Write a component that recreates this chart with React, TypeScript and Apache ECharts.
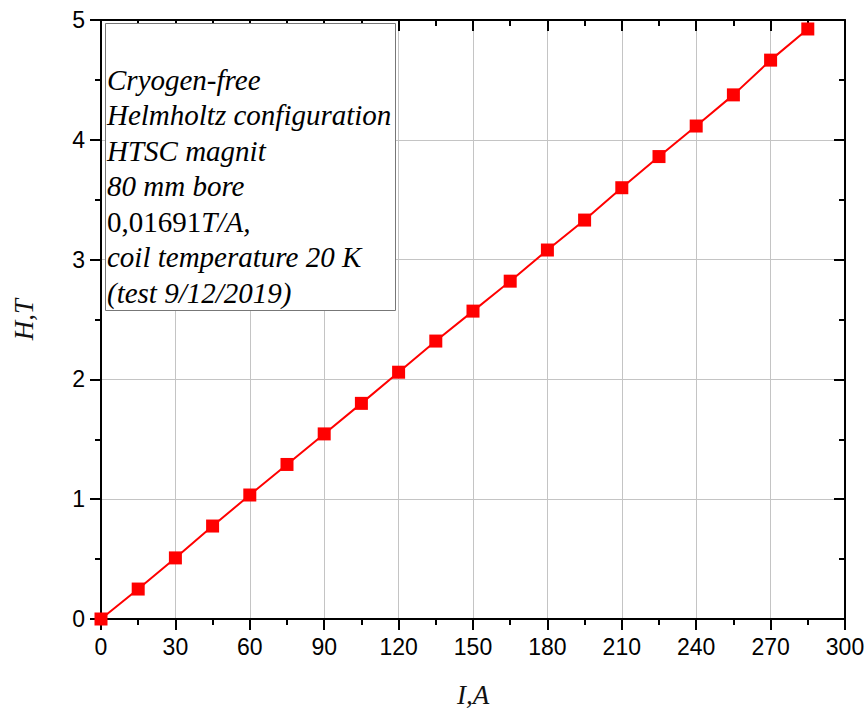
import React, { useEffect, useRef } from "react";
import * as echarts from "echarts";

const currents = [0, 15, 30, 45, 60, 75, 90, 105, 120, 135, 150, 165, 180, 195, 210, 225, 240, 255, 270, 285];
const fields = [0, 0.25, 0.51, 0.776, 1.035, 1.29, 1.545, 1.8, 2.06, 2.32, 2.57, 2.82, 3.08, 3.33, 3.6, 3.86, 4.115, 4.375, 4.665, 4.925];
const noteLines = [
  "Cryogen-free",
  "Helmholtz configuration",
  "HTSC magnit",
  "80 mm bore",
  "{n|0,01691}{i|T/A,}",
  "coil temperature 20 K",
  "(test 9/12/2019)",
];

const serif = "'Liberation Serif', 'Times New Roman', serif";
const sans = "'Liberation Sans', Arial, sans-serif";

export default function App() {
  const ref = useRef<HTMLDivElement>(null);
  useEffect(() => {
    if (!ref.current) return;
    const chart = echarts.init(ref.current, null, { renderer: "svg" });
    const data = currents.map((c, i) => [c, fields[i]]);
    const axisLine = { show: true, onZero: false, lineStyle: { color: "#000", width: 2 } };
    const grid = { left: 101, right: 23, top: 20, bottom: 92, outerBoundsMode: "none" };
    const lineTop = 23;
    const lh = 35.5;
    const fs = 29;
    const textEls: any[] = noteLines.map((t, i) => ({
      type: "text",
      left: 107,
      top: lineTop + 42 + i * lh,
      z: 101,
      style: {
        text: t,
        fontFamily: serif,
        fontStyle: "italic",
        fontSize: fs,
        fill: "#000",
        rich: {
          n: { fontStyle: "normal", fontSize: fs, fontFamily: serif, fill: "#000" },
          i: { fontStyle: "italic", fontSize: fs, fontFamily: serif, fill: "#000" },
        },
      },
    }));
    chart.setOption({
      animation: false,
      grid,
      xAxis: [
        {
          type: "value",
          min: 0,
          max: 300,
          interval: 30,
          position: "bottom",
          name: "I,A",
          nameLocation: "middle",
          nameGap: 62,
          nameTextStyle: { fontFamily: serif, fontStyle: "italic", fontSize: 27, color: "#111" },
          axisLine,
          axisTick: { show: true, inside: false, length: 11, lineStyle: { color: "#000", width: 2 } },
          minorTick: { show: true, splitNumber: 2, length: 6, lineStyle: { color: "#000", width: 2 } },
          axisLabel: { fontFamily: sans, fontSize: 23, color: "#000", margin: 16 },
          splitLine: { show: true, lineStyle: { color: "#c4c4c4", width: 1 } },
        },
        {
          type: "value",
          min: 0,
          max: 300,
          interval: 30,
          position: "top",
          axisLine,
          axisTick: { show: true, inside: true, length: 11, lineStyle: { color: "#000", width: 2 } },
          minorTick: { show: true, splitNumber: 2, length: 6, lineStyle: { color: "#000", width: 2 } },
          axisLabel: { show: false },
          splitLine: { show: false },
        },
      ],
      yAxis: [
        {
          type: "value",
          min: 0,
          max: 5,
          interval: 1,
          position: "left",
          name: "H,T",
          nameLocation: "middle",
          nameGap: 64,
          nameRotate: 90,
          nameTextStyle: { fontFamily: serif, fontStyle: "italic", fontSize: 27, color: "#111" },
          axisLine,
          axisTick: { show: true, inside: false, length: 11, lineStyle: { color: "#000", width: 2 } },
          minorTick: { show: true, splitNumber: 2, length: 6, lineStyle: { color: "#000", width: 2 } },
          axisLabel: { fontFamily: sans, fontSize: 23, color: "#000", margin: 16 },
          splitLine: { show: true, lineStyle: { color: "#c4c4c4", width: 1 } },
        },
        {
          type: "value",
          min: 0,
          max: 5,
          interval: 1,
          position: "right",
          axisLine,
          axisTick: { show: true, inside: true, length: 11, lineStyle: { color: "#000", width: 2 } },
          minorTick: { show: true, splitNumber: 2, length: 6, lineStyle: { color: "#000", width: 2 } },
          axisLabel: { show: false },
          splitLine: { show: false },
        },
      ],
      series: [
        {
          type: "line",
          data,
          xAxisIndex: 0,
          yAxisIndex: 0,
          symbol: "rect",
          symbolSize: 13,
          showAllSymbol: true,
          lineStyle: { color: "#ff0000", width: 2 },
          itemStyle: { color: "#ff0000" },
          clip: false,
          z: 5,
        },
      ],
      graphic: [
        {
          type: "rect",
          left: 105,
          top: lineTop,
          z: 100,
          shape: { width: 290, height: 287 },
          style: { fill: "#fff", stroke: "#777", lineWidth: 1 },
        },
        ...textEls,
      ],
    });
    return () => chart.dispose();
  }, []);
  return <div ref={ref} style={{ width: 868, height: 711, position: "absolute", left: 0, top: 0 }} />;
}
